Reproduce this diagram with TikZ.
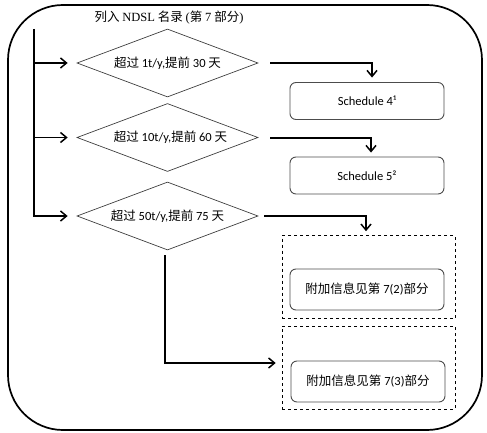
\documentclass[tikz,border=0pt]{standalone}
\usepackage{fontspec}
\setmainfont{Carlito}
\newfontfamily\cjk{Noto Sans CJK SC}
\newfontfamily\serifl{Liberation Serif}
\usetikzlibrary{shapes.geometric,arrows.meta}
\begin{document}
\begin{tikzpicture}[x=1pt,y=-1pt,
  every node/.style={font=\fontsize{12.5}{14}\selectfont},
  outer/.style={draw=black,line width=1.7pt,rounded corners=55pt},
  decision/.style={shape=diamond,draw=black!75,line width=0.7pt,minimum width=181pt,minimum height=68pt,inner sep=0pt,aspect=2.66},
  outbox/.style={draw=black!70,line width=0.9pt,rounded corners=6pt,minimum width=154pt,minimum height=37pt,inner sep=0pt},
  dashbox/.style={draw=black,dashed,line width=0.6pt,minimum width=173pt,minimum height=83pt,inner sep=0pt},
  conn/.style={draw=black,line width=1.5pt},
  arr/.style={conn,-{Straight Barb[length=6pt,width=10pt,line width=1.5pt]}}
]
\useasboundingbox (0,0) rectangle (487,433);
\draw[outer] (8,5) rectangle (482,430);
\node (title) at (169,18) {{\cjk 列入} {\serifl NDSL} {\cjk 名录} {\serifl (}{\cjk 第} {\serifl 7} {\cjk 部分}{\serifl )}};
\node[decision] (d1) at (167.5,63) {{\cjk 超过} 1t/y,{\cjk 提前} 30 {\cjk 天}};
\node[decision] (d2) at (167.5,137.5) {\hspace{6pt}{\cjk 超过} 10t/y,{\cjk 提前} 60 {\cjk 天}};
\node[decision] (d3) at (167.5,216) {{\cjk 超过} 50t/y,{\cjk 提前} 75 {\cjk 天}};
\node[outbox] (s4) at (367,101) {Schedule 4¹};
\node[outbox] (s5) at (367,175.5) {Schedule 5²};
\node[dashbox] (g1) at (368.5,277) {};
\node[dashbox] (g2) at (368.5,367.5) {};
\node[outbox,minimum height=41pt] (a2) at (367,289.5) {{\cjk 附加信息见第} 7(2){\cjk 部分}};
\node[outbox,minimum height=41pt] (a3) at (368,381.5) {{\cjk 附加信息见第} 7(3){\cjk 部分}};
\coordinate (trunkTop) at (34,29);
\coordinate (r1) at (270,63);
\coordinate (r2) at (270,138);
\coordinate (r3) at (264,216);
\coordinate (bot3) at (165,255);
% trunk and branches
\draw[arr,shorten >=9pt] (trunkTop) |- (d3.west);
\draw[arr,shorten >=9pt] (trunkTop |- d1.west) -- (d1.west);
\draw[arr,shorten >=9pt] (trunkTop |- d2.west) -- (d2.west);
% outputs
\draw[arr,shorten >=4.5pt] (r1) -| (372,101 |- s4.north);
\draw[arr,shorten >=4pt] (r2) -| (371,101 |- s5.north);
\draw[arr,shorten >=4pt] (r3) -| (366,101 |- g1.north);
\draw[arr,shorten >=6pt] (bot3) |- (g2.west |- 0,363);
\end{tikzpicture}
\end{document}
